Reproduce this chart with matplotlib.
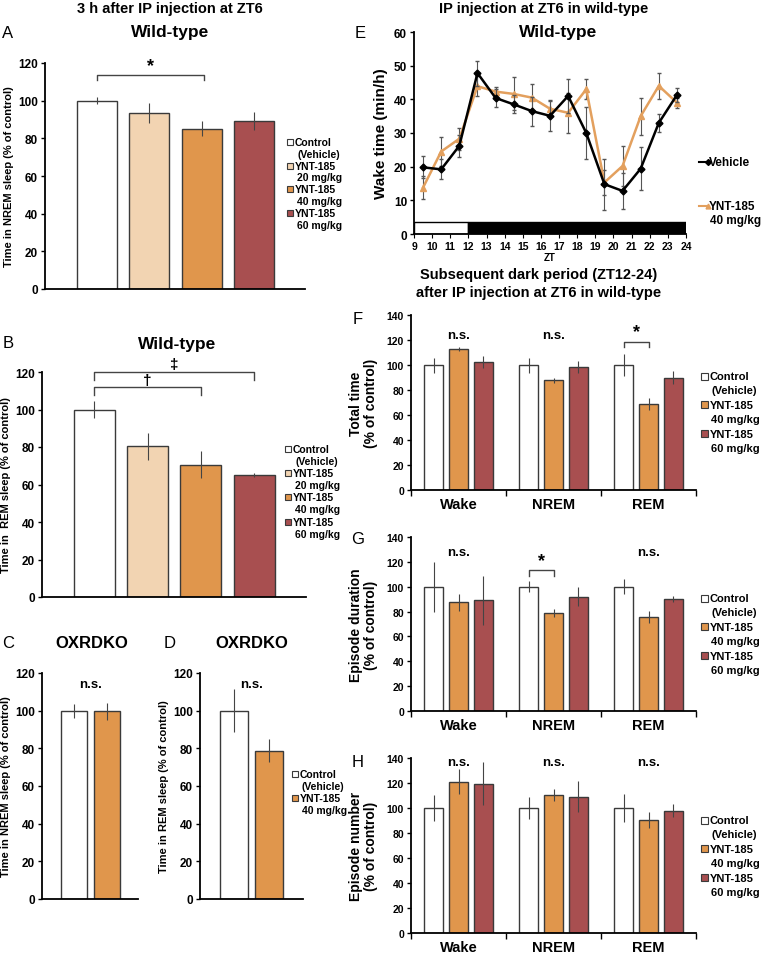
import matplotlib
matplotlib.use('Agg')
import matplotlib.pyplot as plt
from matplotlib.patches import Rectangle
from matplotlib.lines import Line2D

plt.rcParams['font.family'] = ['Liberation Sans', 'DejaVu Sans']
plt.rcParams['font.weight'] = 'bold'
plt.rcParams['axes.labelweight'] = 'bold'

# ---- data ----
# A: NREM sleep, wild-type, 3 h after injection
a_mean = [100, 93.5, 85, 89.3]
a_err = [2, 5.3, 4, 4.7]
# B: REM sleep, wild-type
b_mean = [100, 80.3, 70.5, 65]
b_err = [4.3, 7, 7.2, 1]
# C / D: OXRDKO
c_mean = [100, 99.8]
c_err = [3.7, 4.5]
d_mean = [100, 78.8]
d_err = [11.5, 6]

# E: wake time per hour
zt = [9.5, 10.5, 11.5, 12.5, 13.5, 14.5, 15.5, 16.5, 17.5, 18.5, 19.5, 20.5, 21.5, 22.5, 23.5]
veh = [19.8, 19.2, 26.2, 47.8, 40.4, 38.5, 36.5, 35.1, 41, 30, 14.8, 12.8, 19.4, 33, 41.3]
veh_err = [3.3, 3, 3.3, 3.7, 2.8, 2.7, 4.3, 4.4, 5, 7.6, 7.6, 5.3, 6.3, 2.7, 2]
ynt = [13.8, 24.5, 28.3, 43.9, 42.3, 41.6, 40.5, 37.2, 36, 43, 15.3, 20.2, 35, 44, 39]
ynt_err = [3.3, 4.4, 3.3, 3, 1.5, 4.9, 4, 2.5, 6, 3, 3.8, 6, 5.5, 3.8, 1.5]

# F-H: dark period, rows = Control, 40 mg/kg, 60 mg/kg ; cols = Wake, NREM, REM
states = ['Wake', 'NREM', 'REM']
f_mean = [[100, 100, 100], [113, 88, 69], [102.5, 98.5, 90]]
f_err = [[6, 6, 8.5], [1.5, 2, 5], [4.5, 5, 5.5]]
g_mean = [[100, 100, 100], [87.5, 79, 75.5], [89, 92, 90]]
g_err = [[20, 4.5, 6], [7, 3, 5], [19.5, 7.5, 2.5]]
h_mean = [[100, 100, 100], [121, 110.5, 90.5], [119.5, 109, 98]]
h_err = [[10.5, 9, 11], [10, 5, 6.5], [17, 12.5, 5.5]]

c_ctrl = '#ffffff'
c_20 = '#f2d4b2'
c_40 = '#e0964c'
c_60 = '#a84f50'
edge = '#3a3a3a'

W, H = 762, 954
fig = plt.figure(figsize=(W / 100, H / 100), dpi=100)


def add_ax(l, t, r, b):
    ax = fig.add_axes([l / W, 1 - b / H, (r - l) / W, (b - t) / H])
    ax.spines['top'].set_visible(False)
    ax.spines['right'].set_visible(False)
    ax.spines['left'].set_linewidth(1.3)
    ax.spines['bottom'].set_linewidth(1.3)
    ax.tick_params(axis='y', direction='out', length=3, width=1, labelsize=8.5, pad=2)
    return ax


def ftext(x, y, s, **kw):
    fig.text(x / W, 1 - y / H, s, **kw)


def legend(x, y, entries, fs, step, sq, indent=2.5):
    # entries: (color, first line, second line)
    row = 0
    for col, l1, l2 in entries:
        yy = y + row * step
        fig.add_artist(Rectangle((x / W, 1 - (yy + sq / 2) / H), sq / W, sq / H,
                                 facecolor=col, edgecolor=edge, lw=0.8, transform=fig.transFigure))
        ftext(x + sq + 1.5, yy, l1, fontsize=fs, va='center', ha='left')
        ftext(x + sq + 1.5 + indent, yy + step, l2, fontsize=fs, va='center', ha='left')
        row += 2


def bars(ax, means, errs, colors, width):
    x = list(range(len(means)))
    ax.bar(x, means, width, color=colors, edgecolor=edge, linewidth=1.0,
           yerr=errs, error_kw=dict(ecolor='#444444', elinewidth=0.8, capsize=0), zorder=2)


def bracket(ax, x0, x1, ytop, ylow, s, ys, fs=12):
    ax.plot([x0, x0, x1, x1], [ylow, ytop, ytop, ylow], color='#444444', lw=1, clip_on=False)
    ax.text((x0 + x1) / 2, ys, s, ha='center', va='center', fontsize=fs, clip_on=False)


# ---- A ----
ax = add_ax(45, 64, 305, 290)
bars(ax, a_mean, a_err, [c_ctrl, c_20, c_40, c_60], 0.77)
ax.set_xlim(-0.99, 3.97)
ax.set_ylim(0, 120)
ax.set_yticks(range(0, 121, 20))
ax.set_xticks([])
ax.set_ylabel('Time in NREM sleep (% of control)', fontsize=8, labelpad=3)
bracket(ax, 0, 2.05, 113.6, 110.8, '*', 118.5, 13)
legend(287, 143, [(c_ctrl, 'Control', '(Vehicle)'), (c_20, 'YNT-185', '20 mg/kg'),
                  (c_40, 'YNT-185', '40 mg/kg'), (c_60, 'YNT-185', '60 mg/kg')], 7.5, 11.8, 6)

# ---- B ----
ax = add_ax(42, 373, 306, 598)
bars(ax, b_mean, b_err, [c_ctrl, c_20, c_40, c_60], 0.77)
ax.set_xlim(-0.98, 3.97)
ax.set_ylim(0, 120)
ax.set_yticks(range(0, 121, 20))
ax.set_xticks([])
ax.set_ylabel('Time in  REM sleep (% of control)', fontsize=8, labelpad=3)
bracket(ax, 0, 3, 120, 116, '\u2021', 124, 11)
bracket(ax, 0, 2, 112, 107.5, '\u2020', 116, 11)
legend(285, 450, [(c_ctrl, 'Control', '(Vehicle)'), (c_20, 'YNT-185', '20 mg/kg'),
                  (c_40, 'YNT-185', '40 mg/kg'), (c_60, 'YNT-185', '60 mg/kg')], 7.5, 12.1, 6)

# ---- C ----
ax = add_ax(42, 674, 138, 900)
bars(ax, c_mean, c_err, [c_ctrl, c_40], 0.78)
ax.set_xlim(-0.97, 1.94)
ax.set_ylim(0, 120)
ax.set_yticks(range(0, 121, 20))
ax.set_xticks([])
ax.set_ylabel('Time in NREM sleep (% of control)', fontsize=8, labelpad=3)
ax.text(0.5, 114, 'n.s.', ha='center', va='center', fontsize=9.5)

# ---- D ----
ax = add_ax(200, 674, 303, 900)
bars(ax, d_mean, d_err, [c_ctrl, c_40], 0.78)
ax.set_xlim(-0.97, 1.97)
ax.set_ylim(0, 120)
ax.set_yticks(range(0, 121, 20))
ax.set_xticks([])
ax.set_ylabel('Time in REM sleep (% of control)', fontsize=8, labelpad=3)
ax.text(0.5, 114, 'n.s.', ha='center', va='center', fontsize=9.5)
legend(292, 775, [(c_ctrl, 'Control', '(Vehicle)'), (c_40, 'YNT-185', '40 mg/kg')], 7.5, 12, 6)

# ---- E ----
ax = add_ax(414, 33, 686, 235)
ax.add_patch(Rectangle((9, 0), 3, 3.5, facecolor='white', edgecolor='black', lw=1, zorder=1))
ax.add_patch(Rectangle((12, 0), 12, 3.5, facecolor='black', edgecolor='black', lw=1, zorder=1))
ax.errorbar(zt, veh, yerr=veh_err, color='black', lw=1.8, marker='D', ms=3.5,
            ecolor='#555555', elinewidth=0.8, capsize=1.5, zorder=3)
ax.errorbar(zt, ynt, yerr=ynt_err, color='#e3a05e', lw=1.8, marker='^', ms=4,
            ecolor='#555555', elinewidth=0.8, capsize=1.5, zorder=2)
ax.set_xlim(9, 24)
ax.set_ylim(0, 60)
ax.set_xticks(range(9, 25))
ax.set_yticks(range(0, 61, 10))
ax.tick_params(axis='x', direction='out', length=3, labelsize=7.5, pad=2)
ax.set_xlabel('ZT', fontsize=7, labelpad=1)
ax.set_ylabel('Wake time (min/h)', fontsize=11, labelpad=4)
fig.add_artist(Line2D([699 / W, 708 / W], [1 - 163 / H] * 2, color='black', lw=1.5,
                      marker='D', ms=3, markevery=[1], transform=fig.transFigure))
ftext(709, 163, 'Vehicle', fontsize=8.5, va='center')
fig.add_artist(Line2D([699 / W, 708 / W], [1 - 207 / H] * 2, color='#e3a05e', lw=1.5,
                      marker='^', ms=3.5, markevery=[1], transform=fig.transFigure))
ftext(709, 207, 'YNT-185', fontsize=8.5, va='center')
ftext(710, 221, '40 mg/kg', fontsize=8.5, va='center')

# ---- F, G, H ----
offsets = [-0.26, 0, 0.26]
grp_colors = [c_ctrl, c_40, c_60]


def group_panel(t, b, means, errs, ylabel):
    ax = add_ax(411, t, 696, b)
    for k in range(3):
        xs = [i + offsets[k] for i in range(3)]
        ax.bar(xs, means[k], 0.2, color=grp_colors[k], edgecolor=edge, linewidth=1.0,
               yerr=errs[k], error_kw=dict(ecolor='#444444', elinewidth=0.8, capsize=0), zorder=2)
    ax.set_xlim(-0.5, 2.5)
    ax.set_ylim(0, 140)
    ax.set_yticks(range(0, 141, 20))
    ax.tick_params(axis='y', labelsize=7.5)
    ax.set_xticks([0, 1, 2])
    ax.set_xticklabels(states, fontsize=10.5)
    ax.set_xticks([-0.5, 0.5, 1.5, 2.5], minor=True)
    ax.tick_params(axis='x', which='major', length=0, pad=5)
    ax.tick_params(axis='x', which='minor', direction='out', length=4, width=1)
    ax.set_ylabel(ylabel, fontsize=10, labelpad=6, linespacing=1.1)
    return ax


legend_fgh = [(c_ctrl, 'Control', '(Vehicle)'), (c_40, 'YNT-185', '40 mg/kg'),
              (c_60, 'YNT-185', '60 mg/kg')]

ax = group_panel(316, 491, f_mean, f_err, 'Total time\n(% of control)')
ax.text(0, 124, 'n.s.', ha='center', va='center', fontsize=9.5)
ax.text(1, 124, 'n.s.', ha='center', va='center', fontsize=9.5)
bracket(ax, 2 - 0.26, 2, 118.4, 114.4, '*', 126.5, 13)
legend(701, 377, legend_fgh, 8, 14.4, 7, indent=1.5)

ax = group_panel(538, 712, g_mean, g_err, 'Episode duration\n(% of control)')
ax.text(0, 128, 'n.s.', ha='center', va='center', fontsize=9.5)
ax.text(2, 128, 'n.s.', ha='center', va='center', fontsize=9.5)
bracket(ax, 1 - 0.26, 1, 113.4, 108.6, '*', 121, 13)
legend(701, 599, legend_fgh, 8, 14.4, 7, indent=1.5)

ax = group_panel(759, 934, h_mean, h_err, 'Episode number\n(% of control)')
for i in range(3):
    ax.text(i, 137, 'n.s.', ha='center', va='center', fontsize=9.5)
legend(701, 821, legend_fgh, 8, 14.4, 7, indent=1.5)

# ---- titles and panel letters ----
ftext(170, 9, '3 h after IP injection at ZT6', fontsize=10.5, ha='center', va='center')
ftext(544, 9, 'IP injection at ZT6 in wild-type', fontsize=10.5, ha='center', va='center')
ftext(170, 33, 'Wild-type', fontsize=12.5, ha='center', va='center')
ftext(558, 33, 'Wild-type', fontsize=12.5, ha='center', va='center')
ftext(177, 345, 'Wild-type', fontsize=12.5, ha='center', va='center')
ftext(92, 643, 'OXRDKO', fontsize=12, ha='center', va='center')
ftext(252, 643, 'OXRDKO', fontsize=12, ha='center', va='center')
ftext(539, 275, 'Subsequent dark period (ZT12-24)', fontsize=10.5, ha='center', va='center')
ftext(539, 293, 'after IP injection at ZT6 in wild-type', fontsize=10.5, ha='center', va='center')

for s, x, y in [('A', 8, 33), ('B', 8, 343), ('C', 8, 643), ('D', 170, 643),
                ('E', 360, 33), ('F', 358, 320), ('G', 358, 540), ('H', 358, 763)]:
    ftext(x, y, s, fontsize=12, fontweight='normal', ha='center', va='center')

fig.savefig('out.png', dpi=100)
